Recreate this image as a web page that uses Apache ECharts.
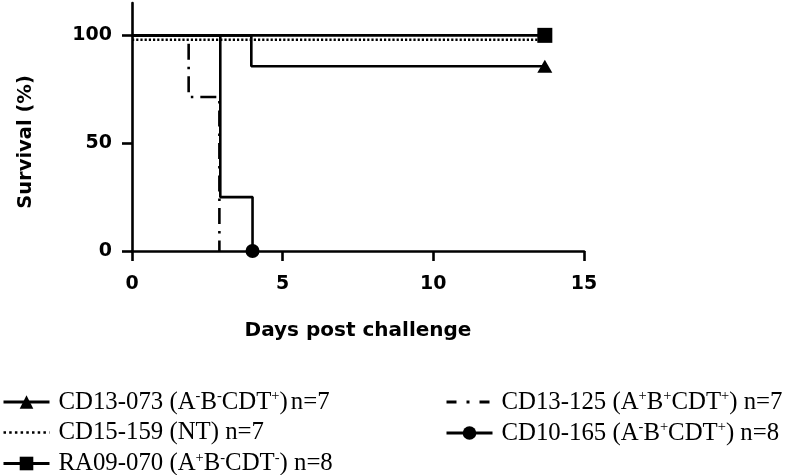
<!DOCTYPE html>
<html><head><meta charset="utf-8">
<script src="https://cdn.jsdelivr.net/npm/echarts@6/dist/echarts.min.js"></script>
<style>html,body{margin:0;padding:0;background:#fff}#c{width:787px;height:475px}</style>
</head><body><div id="c"></div>
<script>
// ---- data ----
const xTicks = [0, 5, 10, 15];
const yTicks = [0, 50, 100];
const cd13_073_days = [0, 3.96, 13.7];
const cd13_073_surv = [100, 85.7, 85.7];
const cd15_159_days = [0, 13.9];
const cd15_159_surv = [98, 98];
const ra09_070_days = [0, 13.7];
const ra09_070_surv = [100, 100];
const cd13_125_days = [0, 1.88, 2.9];
const cd13_125_surv = [100, 71.4, 0];
const cd10_165_days = [0, 2.93, 4];
const cd10_165_surv = [100, 25, 0];

const seriesNames = ['CD13-073', 'CD15-159', 'RA09-070', 'CD13-125', 'CD10-165'];
// legend label pieces: [text, 'n' normal | 's' superscript | 'g' gap]
const legendPieces = {
  'CD13-073': [['CD13-073 (A','n'],['-','s'],['B','n'],['-','s'],['CDT','n'],['+','s'],[')','n'],['g3','g'],['n=7','n']],
  'CD15-159': [['CD15-159 (NT) n=7','n']],
  'RA09-070': [['RA09-070 (A','n'],['+','s'],['B','n'],['-','s'],['CDT','n'],['-','s'],[') n=8','n']],
  'CD13-125': [['CD13-125 (A','n'],['+','s'],['B','n'],['+','s'],['CDT','n'],['+','s'],[') n=7','n']],
  'CD10-165': [['CD10-165 (A','n'],['-','s'],['B','n'],['+','s'],['CDT','n'],['+','s'],[') n=8','n']]
};

function pts(days, surv, markLast) {
  return days.map((d, i) => {
    const item = { value: [d, surv[i]] };
    if (!(markLast && i === days.length - 1)) item.symbol = 'none';
    return item;
  });
}

const chart = echarts.init(document.getElementById('c'), null, { renderer: 'canvas' });
const black = '#000';
const lw = 2.6;

function legendFormatter(name) {
  const parts = legendPieces[name];
  let s = '{g6| }';
  parts.forEach(p => {
    if (p[1] === 'g') s += '{' + p[0] + '| }';
    else s += '{' + p[1] + '|' + p[0] + '}';
  });
  return s;
}
const legendRich = {
  n: { fontFamily: 'Liberation Serif', fontSize: 24.8, lineHeight: 26, color: black },
  s: { fontFamily: 'Liberation Serif', fontSize: 14.5, lineHeight: 14, color: black, verticalAlign: 'top' },
  g6: { width: 4, fontSize: 4, lineHeight: 4 },
  g3: { width: 3, fontSize: 3, lineHeight: 3 }
};
const legendBase = {
  orient: 'vertical', padding: 0, itemGap: 5.5, itemWidth: 46, itemHeight: 17,
  height: 110, width: 340,
  formatter: legendFormatter, selectedMode: false,
  textStyle: { rich: legendRich, color: black },
  lineStyle: { width: 3 }
};

const axisLabelStyle = { fontFamily: 'DejaVu Sans', fontWeight: 'bold', fontSize: 19, color: black };

chart.setOption({
  animation: false,
  backgroundColor: '#fff',
  grid: { left: 132, right: 203, top: 3, bottom: 224, containLabel: false },
  xAxis: {
    type: 'value', min: 0, max: 15, interval: 5,
    name: 'Days post challenge', nameLocation: 'middle', nameGap: 70,
    nameTextStyle: { fontFamily: 'DejaVu Sans', fontWeight: 'bold', fontSize: 20, color: black },
    axisLine: { show: true, onZero: false, lineStyle: { color: black, width: lw } },
    axisTick: { show: true, length: 10, lineStyle: { color: black, width: lw }, customValues: xTicks },
    axisLabel: { margin: 24, ...axisLabelStyle, customValues: xTicks },
    splitLine: { show: false }
  },
  yAxis: {
    type: 'value', min: 0, max: 115, interval: 50,
    name: 'Survival (%)', nameLocation: 'middle', nameGap: 96,
    nameTextStyle: { fontFamily: 'DejaVu Sans', fontWeight: 'bold', fontSize: 19.5, color: black, padding: [0, 30, 0, 0] },
    axisLine: { show: true, onZero: false, lineStyle: { color: black, width: lw } },
    axisTick: { show: true, length: 10, lineStyle: { color: black, width: lw }, customValues: yTicks },
    axisLabel: { margin: 20, ...axisLabelStyle, customValues: yTicks },
    splitLine: { show: false }
  },
  legend: [
    Object.assign({}, legendBase, { left: 2, top: 389, data: [
      { name: 'CD13-073' },
      { name: 'CD15-159', itemStyle: { color: 'rgba(0,0,0,0)', borderWidth: 0 }, lineStyle: { type: [2.5, 3.2], width: 2.5 } },
      { name: 'RA09-070' }
    ] }),
    Object.assign({}, legendBase, { left: 445, top: 389, data: [
      { name: 'CD13-125', itemStyle: { color: 'rgba(0,0,0,0)', borderWidth: 0 }, lineStyle: { type: [10, 10, 3, 10] } },
      { name: 'CD10-165' }
    ] })
  ],
  series: [
    { name: 'CD13-073', type: 'line', step: 'end', symbol: 'triangle', symbolSize: [15, 13],
      itemStyle: { color: black }, lineStyle: { color: black, width: lw }, z: 3,
      data: pts(cd13_073_days, cd13_073_surv, true) },
    { name: 'CD15-159', type: 'line', step: 'end', symbol: 'none',
      itemStyle: { color: black }, lineStyle: { color: black, width: 2.5, type: [2.2, 2] }, z: 2,
      data: pts(cd15_159_days, cd15_159_surv, false) },
    { name: 'RA09-070', type: 'line', step: 'end', symbol: 'rect', symbolSize: 15,
      itemStyle: { color: black }, lineStyle: { color: black, width: lw }, z: 3,
      data: pts(ra09_070_days, ra09_070_surv, true) },
    { name: 'CD13-125', type: 'line', step: 'end', symbol: 'none',
      itemStyle: { color: black }, lineStyle: { color: black, width: lw, type: [16, 7, 2.5, 7] }, z: 2,
      data: pts(cd13_125_days, cd13_125_surv, false) },
    { name: 'CD10-165', type: 'line', step: 'end', symbol: 'circle', symbolSize: 14,
      itemStyle: { color: black }, lineStyle: { color: black, width: lw }, z: 3,
      data: pts(cd10_165_days, cd10_165_surv, true) }
  ]
});
</script></body></html>
